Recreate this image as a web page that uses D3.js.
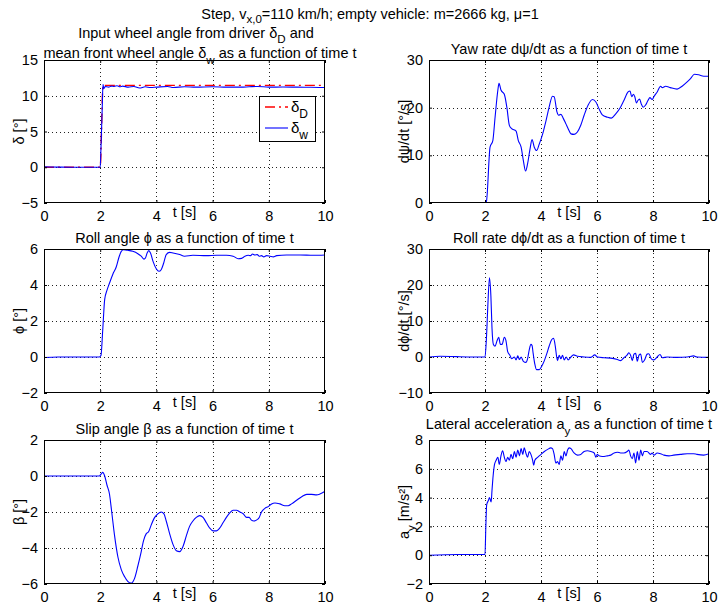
<!DOCTYPE html>
<html>
<head>
<meta charset="utf-8">
<script src="https://cdn.jsdelivr.net/npm/d3@7"></script>
<style>
  html, body { margin: 0; padding: 0; background: #fff; }
  svg { display: block; }
  text { font-family: "Liberation Sans", Arial, Helvetica, sans-serif; fill: #000; }
</style>
</head>
<body>
<svg id="fig" width="718" height="607"></svg>
<script>
// ---- data -------------------------------------------------------------
const timeTicks = [0, 2, 4, 6, 8, 10];

// steering input from driver and mean front wheel angle [deg]
const deltaDriverT = [0, 2.0, 2.1, 10];
const deltaDriver  = [0, 0, 11.45, 11.45];
const deltaWheelT = [0, 0.5, 1, 1.5, 2.0, 2.03, 2.07, 2.1, 2.13, 2.18, 2.3, 2.4, 2.5, 2.6, 2.7, 2.8, 3.0, 3.2, 3.4, 3.6, 3.8, 4.0, 4.4, 4.6, 5.0, 5.4, 6.0, 6.5, 7.0, 7.3, 7.6, 8.0, 8.5, 9.0, 9.5, 10];
const deltaWheel  = [0.05, 0.02, 0, 0, 0, 3, 8, 11.6, 11.0, 11.3, 11.2, 11.35, 11.3, 11.4, 11.25, 11.35, 11.2, 11.3, 11.08, 11.25, 11.15, 11.2, 11.3, 11.15, 11.25, 11.2, 11.25, 11.2, 11.2, 11.25, 11.3, 11.2, 11.22, 11.2, 11.18, 11.15];

// yaw rate [deg/s]
const yawT = [0, 2.0, 2.05, 2.18, 2.28, 2.36, 2.46, 2.5, 2.57, 2.69, 2.78, 2.87, 2.95, 3.11, 3.19, 3.29, 3.37, 3.45, 3.52, 3.61, 3.68, 3.76, 3.84, 3.94, 4.06, 4.18, 4.29, 4.41, 4.47, 4.57, 4.63, 4.71, 4.8, 4.89, 4.97, 5.07, 5.18, 5.3, 5.42, 5.54, 5.68, 5.84, 5.96, 6.07, 6.19, 6.37, 6.51, 6.67, 6.84, 6.96, 7.11, 7.18, 7.24, 7.3, 7.35, 7.41, 7.46, 7.52, 7.58, 7.65, 7.73, 7.82, 7.89, 7.97, 8.03, 8.15, 8.27, 8.33, 8.45, 8.62, 8.86, 9.04, 9.22, 9.34, 9.48, 9.63, 9.81, 10];
const yawRate = [0, 0, 0.3, 11.7, 13.1, 18, 23.7, 25.1, 23.7, 22.8, 20.1, 16.3, 15.6, 15.1, 13.1, 11.7, 8.9, 6.7, 8.2, 11.4, 13.3, 11.7, 11.0, 12.4, 14.5, 17.3, 20.1, 22.4, 22.3, 19.1, 18.4, 18.6, 17.7, 16.6, 15.6, 14.5, 14.4, 14.9, 16.3, 18.4, 20.5, 21.7, 21.2, 19.8, 18.5, 18.0, 17.8, 18.7, 20.1, 21.5, 23.3, 23.5, 22.3, 22.8, 22.3, 21.0, 21.5, 21.8, 20.8, 20.1, 20.5, 21.5, 22.1, 21.7, 22.3, 23.3, 24.5, 24.2, 24.5, 24.2, 23.9, 24.5, 25.4, 26.1, 27.0, 26.9, 26.6, 26.6];

// roll angle [deg]
const rollT = [0, 0.5, 1.0, 1.97, 2.03, 2.09, 2.16, 2.24, 2.33, 2.45, 2.57, 2.66, 2.75, 2.83, 2.98, 3.16, 3.34, 3.46, 3.56, 3.61, 3.67, 3.73, 3.79, 3.88, 4.0, 4.09, 4.17, 4.26, 4.35, 4.47, 4.59, 4.83, 5.0, 5.3, 5.78, 6.14, 6.49, 6.73, 6.91, 7.03, 7.15, 7.27, 7.35, 7.42, 7.5, 7.59, 7.66, 7.74, 7.82, 7.92, 8.04, 8.16, 8.28, 8.63, 9.11, 9.58, 10];
const rollAngle = [-0.03, 0, 0, 0, 0.1, 1.5, 3.2, 3.7, 4.1, 4.6, 5.0, 5.5, 5.87, 5.96, 5.93, 5.87, 5.74, 5.6, 5.44, 5.5, 5.78, 5.91, 5.78, 5.31, 4.89, 4.76, 4.85, 5.22, 5.69, 5.81, 5.78, 5.69, 5.6, 5.65, 5.63, 5.65, 5.65, 5.6, 5.46, 5.48, 5.6, 5.65, 5.63, 5.72, 5.67, 5.69, 5.6, 5.63, 5.56, 5.63, 5.6, 5.56, 5.63, 5.67, 5.67, 5.65, 5.67];

// roll rate [deg/s]
const rollRateT = [0, 0.4, 1.0, 2.0, 2.05, 2.1, 2.16, 2.21, 2.25, 2.3, 2.36, 2.43, 2.49, 2.55, 2.61, 2.69, 2.75, 2.81, 2.89, 2.95, 3.05, 3.11, 3.17, 3.23, 3.29, 3.37, 3.46, 3.52, 3.58, 3.64, 3.68, 3.72, 3.78, 3.84, 3.94, 4.03, 4.12, 4.21, 4.29, 4.38, 4.45, 4.51, 4.56, 4.59, 4.65, 4.71, 4.77, 4.83, 4.9, 4.97, 5.07, 5.16, 5.3, 5.54, 5.78, 5.92, 6.01, 6.25, 6.49, 6.73, 6.84, 6.96, 7.08, 7.14, 7.2, 7.26, 7.32, 7.38, 7.44, 7.5, 7.56, 7.62, 7.7, 7.79, 7.85, 7.94, 8.03, 8.15, 8.25, 8.33, 8.51, 8.86, 9.22, 9.45, 9.57, 10];
const rollRate = [0, 0.2, 0.1, 0, 5, 14, 22, 17, 8, 3.5, 3, 4.5, 5.5, 3.5, 3.5, 5.5, 4.5, 1.5, 0.5, -0.5, 0, -0.8, 0.3, -0.7, 0, -1.2, -1.5, -0.5, 2, 3.5, 3.2, 1, -2, -3.5, -3.5, -2.5, -1, 1, 3, 4.8, 5.2, 3, 0, -1, 0.5, -0.5, 0.5, -0.8, 0, -0.8, 0, 0.6, 0.2, 0, -0.1, 0.6, 0, -0.2, -0.3, -0.7, -1, -0.2, 0.6, 1.2, 0.5, -1, 0.8, 1, -1.2, 0.5, 0.8, -1.5, -0.8, 0.8, 0.9, -0.5, -0.8, 0, 0.7, -0.2, 0, -0.1, 0, 0.3, 0, -0.1];

// slip angle [deg]
const slipT = [0, 1.0, 1.97, 2.03, 2.09, 2.16, 2.24, 2.33, 2.41, 2.51, 2.63, 2.75, 2.87, 2.98, 3.1, 3.22, 3.34, 3.46, 3.54, 3.64, 3.72, 3.82, 3.94, 4.05, 4.17, 4.27, 4.35, 4.47, 4.59, 4.71, 4.83, 4.95, 5.07, 5.18, 5.3, 5.42, 5.54, 5.66, 5.78, 5.9, 6.02, 6.14, 6.25, 6.37, 6.49, 6.61, 6.73, 6.85, 6.97, 7.09, 7.21, 7.3, 7.38, 7.47, 7.56, 7.66, 7.74, 7.86, 7.98, 8.1, 8.22, 8.39, 8.57, 8.69, 8.81, 8.99, 9.17, 9.35, 9.52, 9.7, 9.82, 10];
const slipAngle = [0, 0, 0, 0.1, 0.2, 0, -0.5, -1.0, -2.0, -3.3, -4.5, -5.2, -5.6, -5.85, -5.95, -5.7, -5.0, -4.2, -3.6, -3.2, -3.1, -2.7, -2.3, -2.1, -2.0, -2.1, -2.5, -3.2, -3.8, -4.15, -4.2, -3.9, -3.3, -2.8, -2.5, -2.3, -2.2, -2.3, -2.6, -2.9, -3.05, -3.05, -2.9, -2.6, -2.3, -2.05, -1.9, -1.9, -2.0, -2.1, -2.3, -2.3, -2.45, -2.5, -2.45, -2.3, -2.0, -1.8, -1.7, -1.55, -1.5, -1.55, -1.65, -1.65, -1.55, -1.35, -1.15, -1.02, -1.02, -1.05, -1.0, -0.85];

// lateral acceleration [m/s^2]
const latAccT = [0, 1.0, 2.0, 2.03, 2.06, 2.12, 2.16, 2.22, 2.25, 2.29, 2.34, 2.4, 2.46, 2.51, 2.57, 2.63, 2.69, 2.75, 2.81, 2.87, 2.93, 2.99, 3.05, 3.11, 3.17, 3.23, 3.29, 3.35, 3.4, 3.46, 3.52, 3.58, 3.64, 3.7, 3.74, 3.78, 3.88, 4.0, 4.12, 4.24, 4.35, 4.41, 4.47, 4.53, 4.59, 4.65, 4.71, 4.77, 4.83, 4.89, 4.95, 5.01, 5.07, 5.18, 5.3, 5.42, 5.54, 5.66, 5.78, 5.9, 5.96, 6.01, 6.07, 6.19, 6.37, 6.49, 6.61, 6.73, 6.84, 6.96, 7.08, 7.14, 7.2, 7.26, 7.32, 7.38, 7.44, 7.5, 7.56, 7.62, 7.68, 7.79, 7.91, 7.97, 8.03, 8.15, 8.27, 8.39, 8.57, 8.74, 8.98, 9.22, 9.45, 9.57, 9.81, 10];
const latAcc = [0, 0.05, 0.05, 2, 3.5, 3.8, 4.0, 3.7, 4.5, 5.5, 6.3, 6.6, 6.8, 6.3, 6.9, 7.25, 6.8, 6.5, 6.8, 6.6, 7.0, 6.7, 7.2, 6.8, 7.3, 6.9, 7.4, 7.0, 7.45, 7.1, 6.8, 7.2, 7.0, 6.6, 6.25, 6.6, 6.8, 7.0, 7.2, 7.35, 7.45, 7.4, 7.0, 6.4, 6.5, 6.3, 6.9, 6.6, 7.2, 6.9, 7.3, 7.45, 7.4, 7.1, 6.95, 7.0, 7.2, 7.25, 7.2, 7.1, 6.8, 7.0, 6.9, 6.85, 6.9, 6.95, 7.1, 7.15, 7.1, 7.1, 7.2, 7.3, 6.9, 6.7, 7.1, 6.4, 7.2, 6.6, 7.3, 6.9, 7.2, 7.2, 7.0, 7.1, 6.95, 7.1, 7.05, 6.95, 6.9, 6.95, 7.0, 7.05, 7.05, 7.0, 6.95, 7.05];

// y-axis tick values per panel
const deltaTicks = [-5, 0, 5, 10, 15];
const yawTicks = [0, 10, 20, 30];
const rollTicks = [-2, 0, 2, 4, 6];
const rollRateTicks = [-10, 0, 10, 20, 30];
const slipTicks = [-6, -4, -2, 0, 2];
const latAccTicks = [-2, 0, 2, 4, 6, 8];

// ---- layout -----------------------------------------------------------
const colX = [[44, 325], [429, 709]];
const rowY = [[60, 203], [249, 393], [440, 584]];
const BLUE = "#0000ff", RED = "#ff0000";
const TICK_FS = 14.5, LABEL_FS = 14.5, TITLE_FS = 14.5;

const svg = d3.select("#fig");

// text with simple "_{...}" subscripts
function rich(sel, str, fs, shiftFrac = 0.4) {
  const parts = str.split(/(_\{[^}]*\}|_.)/).filter(s => s.length);
  const shift = fs * shiftFrac;
  let down = false;
  parts.forEach(p => {
    if (p[0] === "_" ) {
      const s = p[1] === "{" ? p.slice(2, -1) : p.slice(1);
      sel.append("tspan").attr("font-size", fs * 0.8).attr("dy", shift).text(s);
      down = true;
    } else {
      const t = sel.append("tspan").attr("font-size", fs).text(p);
      if (down) { t.attr("dy", -shift); down = false; }
    }
  });
  return sel;
}

const panels = [
  { c: 0, r: 0, dom: [-5, 15], ticks: deltaTicks, ylab: "δ [°]",
    series: [{ t: deltaDriverT, v: deltaDriver, color: RED, dash: "10,4,2,4", w: 1.4 },
             { t: deltaWheelT, v: deltaWheel, color: BLUE, w: 1.1 }] },
  { c: 1, r: 0, dom: [0, 30], ticks: yawTicks, ylab: "dψ/dt [°/s]",
    title: "Yaw rate dψ/dt as a function of time t",
    series: [{ t: yawT, v: yawRate, color: BLUE, w: 1.1 }] },
  { c: 0, r: 1, dom: [-2, 6], ticks: rollTicks, ylab: "ϕ [°]",
    title: "Roll angle ϕ as a function of time t",
    series: [{ t: rollT, v: rollAngle, color: BLUE, w: 1.1 }] },
  { c: 1, r: 1, dom: [-10, 30], ticks: rollRateTicks, ylab: "dϕ/dt [°/s]",
    title: "Roll rate dϕ/dt as a function of time t",
    series: [{ t: rollRateT, v: rollRate, color: BLUE, w: 1.1 }] },
  { c: 0, r: 2, dom: [-6, 2], ticks: slipTicks, ylab: "β [°]",
    title: "Slip angle β as a function of time t",
    series: [{ t: slipT, v: slipAngle, color: BLUE, w: 1.1 }] },
  { c: 1, r: 2, dom: [-2, 8], ticks: latAccTicks, ylab: "a_y [m/s²]",
    title: "Lateral acceleration a_y as a function of time t", titleDy: -5,
    series: [{ t: latAccT, v: latAcc, color: BLUE, w: 1.1 }] }
];

panels.forEach((p, i) => {
  const [x0, x1] = colX[p.c];
  const [y0, y1] = rowY[p.r];
  const x = d3.scaleLinear().domain([0, 10]).range([x0, x1]);
  const y = d3.scaleLinear().domain(p.dom).range([y1, y0]);
  const g = svg.append("g");

  // dotted grid
  const grid = g.append("g").attr("stroke", "#222").attr("stroke-width", 1)
    .attr("stroke-dasharray", "1,3");
  timeTicks.slice(1, -1).forEach(t => {
    const px = Math.round(x(t)) + 0.5;
    grid.append("line").attr("x1", px).attr("x2", px).attr("y1", y0).attr("y2", y1);
  });
  p.ticks.slice(1, -1).forEach(v => {
    const py = Math.round(y(v)) + 0.5;
    grid.append("line").attr("x1", x0).attr("x2", x1).attr("y1", py).attr("y2", py);
  });

  // curves
  const clipId = "clip" + i;
  g.append("clipPath").attr("id", clipId).append("rect")
    .attr("x", x0).attr("y", y0).attr("width", x1 - x0).attr("height", y1 - y0);
  p.series.forEach(s => {
    const pts = s.t.map((t, k) => [t, s.v[k]]);
    const line = d3.line().x(d => x(d[0])).y(d => y(d[1])).curve(d3.curveMonotoneX);
    g.append("path").attr("d", line(pts)).attr("fill", "none")
      .attr("stroke", s.color).attr("stroke-width", s.w)
      .attr("stroke-dasharray", s.dash || null)
      .attr("clip-path", `url(#${clipId})`);
  });

  // axes (inward ticks on all four sides, labels bottom/left)
  const tl = 3;
  const bottom = d3.axisBottom(x).tickValues(timeTicks).tickSizeInner(-tl).tickSizeOuter(0).tickPadding(8);
  const top = d3.axisTop(x).tickValues(timeTicks).tickSizeInner(-tl).tickSizeOuter(0).tickFormat("");
  const left = d3.axisLeft(y).tickValues(p.ticks).tickSizeInner(-tl).tickSizeOuter(0).tickPadding(6)
    .tickFormat(d => (d < 0 ? "\u2212" + Math.abs(d) : d));
  const right = d3.axisRight(y).tickValues(p.ticks).tickSizeInner(-tl).tickSizeOuter(0).tickFormat("");

  const gb = g.append("g").attr("transform", `translate(0,${y1})`).call(bottom);
  const gt = g.append("g").attr("transform", `translate(0,${y0})`).call(top);
  const gl = g.append("g").attr("transform", `translate(${x0},0)`).call(left);
  const gr = g.append("g").attr("transform", `translate(${x1},0)`).call(right);
  [gb, gt, gl, gr].forEach(a => {
    a.select(".domain").remove();
    a.selectAll(".tick line").attr("stroke", "#000");
    a.selectAll("text").attr("font-size", TICK_FS)
      .attr("font-family", '"Liberation Sans", Arial, sans-serif').attr("fill", "#000");
  });
  gb.selectAll("text").attr("dy", "0.71em");

  // box
  g.append("rect").attr("x", x0 + 0.5).attr("y", y0 + 0.5)
    .attr("width", x1 - x0 - 1).attr("height", y1 - y0 - 1)
    .attr("fill", "none").attr("stroke", "#000").attr("stroke-width", 1);

  // x label
  rich(g.append("text").attr("x", (x0 + x1) / 2).attr("y", y1 + 14)
    .attr("text-anchor", "middle"), "t [s]", LABEL_FS);

  // y label
  rich(g.append("text").attr("transform", `translate(${x0 - 20},${(y0 + y1) / 2}) rotate(-90)`)
    .attr("text-anchor", "middle"), p.ylab, LABEL_FS);

  // title
  if (p.title) {
    rich(g.append("text").attr("x", (x0 + x1) / 2).attr("y", y0 - 6 + (p.titleDy || 0))
      .attr("text-anchor", "middle"), p.title, TITLE_FS);
  }

  // legend for the steering panel
  if (p.c === 0 && p.r === 0) {
    const lg = g.append("g");
    lg.append("rect").attr("x", 259.5).attr("y", 96.5).attr("width", 56).attr("height", 45)
      .attr("fill", "#fff").attr("stroke", "#000");
    const items = [{ s: p.series[0], lab: "δ_D", yy: 107 }, { s: p.series[1], lab: "δ_w", yy: 128 }];
    items.forEach(it => {
      lg.append("line").attr("x1", 265).attr("x2", 288).attr("y1", it.yy).attr("y2", it.yy)
        .attr("stroke", it.s.color).attr("stroke-width", it.s.w)
        .attr("stroke-dasharray", it.s.dash || null);
      rich(lg.append("text").attr("x", 291).attr("y", it.yy + 4.5), it.lab, 15);
    });
  }
});

// two-line title of the steering panel
rich(svg.append("text").attr("x", 196).attr("y", 37.5).attr("text-anchor", "middle"),
  "Input wheel angle from driver δ_D and", TITLE_FS);
rich(svg.append("text").attr("x", 200).attr("y", 58).attr("text-anchor", "middle"),
  "mean front wheel angle δ_w as a function of time t", TITLE_FS);

// figure title
rich(svg.append("text").attr("x", 370).attr("y", 19).attr("text-anchor", "middle"),
  "Step, v_{x,0}=110 km/h; empty vehicle: m=2666 kg, μ=1", 14.5, 0.3);
</script>
</body>
</html>
